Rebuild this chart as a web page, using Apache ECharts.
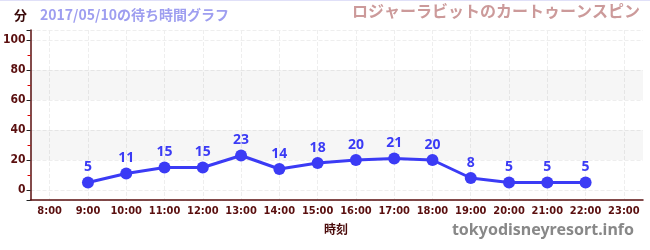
<!DOCTYPE html>
<html><head><meta charset="utf-8">
<script src="https://cdn.jsdelivr.net/npm/echarts@6/dist/echarts.min.js"></script>
<style>html,body{margin:0;padding:0;background:#fff}#c{width:650px;height:250px}</style>
</head><body><div id="c"></div>
<script>
const categories = ['8:00','9:00','10:00','11:00','12:00','13:00','14:00','15:00','16:00','17:00','18:00','19:00','20:00','21:00','22:00','23:00'];
const waitTimes = [null,5,11,15,15,23,14,18,20,21,20,8,5,5,5,null];
const yTicks = [0,20,40,60,80,100];
const bands = [[20,40],[60,80]];
const titleText = '2017/05/10の待ち時間グラフ';
const attractionName = 'ロジャーラビットのカートゥーンスピン';

const chart = echarts.init(document.getElementById('c'), null, {renderer:'canvas'});
const dark = '#5a0f0f';
chart.setOption({
  animation:false,
  textStyle:{fontFamily:'"Noto Sans CJK JP","DejaVu Sans",sans-serif'},
  graphic:[
    {type:'rect',left:0,top:0,shape:{width:650,height:1},style:{fill:'#e0e0f8'}},
    {type:'text',left:14,top:9,style:{text:'分',fill:'#3a0a0a',font:'bold 13px "Noto Sans CJK JP"'}},
    {type:'text',left:40,top:8,style:{text:titleText,fill:'#9e9ef0',font:'bold 14px "Noto Sans CJK JP"'}},
    {type:'text',right:10,top:3,style:{text:attractionName,fill:'#cc9a9a',font:'bold 16px "Noto Sans CJK JP"'}},
    {type:'text',left:324,top:223,style:{text:'時刻',fill:'#4a0a0a',font:'bold 12px "Noto Sans CJK JP"'}},
    {type:'text',right:16,top:222,style:{text:'tokyodisneyresort.info',fill:'#888888',font:'bold 16px "Noto Sans"'}}
  ],
  grid:{left:30,right:7,top:30,bottom:50},
  xAxis:{
    type:'category',data:categories,boundaryGap:true,
    axisLine:{onZero:false,lineStyle:{color:dark,width:1.5}},
    axisTick:{alignWithLabel:true,interval:0,length:4,lineStyle:{color:'#222'}},
    axisLabel:{interval:0,color:dark,fontSize:11,fontWeight:'bold',fontFamily:'"DejaVu Sans Condensed","DejaVu Sans"',margin:6},
    splitLine:{show:true,interval:0,alignWithLabel:true,lineStyle:{color:'#eeeeee',type:'dashed'}}
  },
  yAxis:{
    type:'value',min:-20/3,max:320/3,
    axisLine:{show:true,lineStyle:{color:dark,width:1.5}},
    axisTick:{show:true,length:4,lineStyle:{color:'#222'}},
    minorTick:{show:true,splitNumber:2,length:3,lineStyle:{color:'#dd0000'}},
    axisLabel:{color:dark,fontSize:12,fontWeight:'bold',fontFamily:'"DejaVu Sans Condensed","DejaVu Sans"',margin:5,showMinLabel:false,showMaxLabel:false,
      formatter:v=>yTicks.includes(Math.round(v*1000)/1000)?String(v):''},
    splitLine:{show:true,lineStyle:{color:'#eeeeee',type:'dashed'}}
  },
  series:[{
    type:'line',data:waitTimes,connectNulls:false,
    symbol:'circle',symbolSize:12,
    lineStyle:{color:'#3b3bf5',width:3},
    itemStyle:{color:'#3b3bf5'},
    label:{show:true,position:'top',distance:2,color:'#3b3bf5',fontSize:14,fontWeight:'bold',fontFamily:'"Noto Sans","DejaVu Sans"'},
    markArea:{silent:true,itemStyle:{color:'rgba(0,0,0,0.035)'},
      data:bands.map(b=>[{yAxis:b[0]},{yAxis:b[1]}])},
    z:3
  }]
});
</script></body></html>
